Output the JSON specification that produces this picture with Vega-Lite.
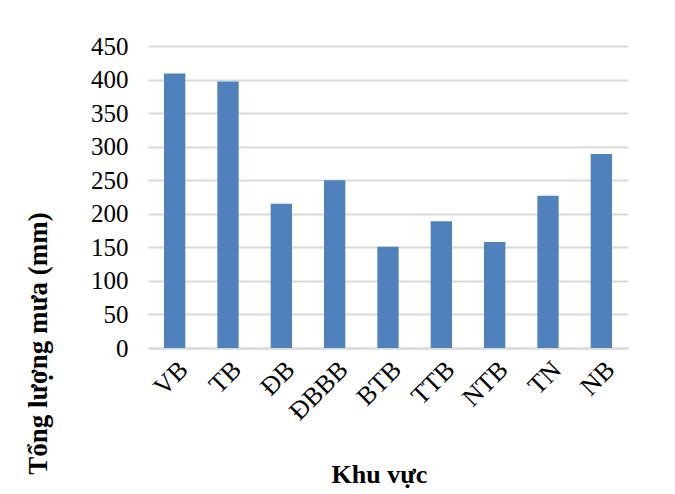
{
  "$schema": "https://vega.github.io/schema/vega-lite/v6.json",
  "autosize": "none",
  "width": 480,
  "height": 302,
  "padding": {"left": 148, "top": 46, "right": 47, "bottom": 146},
  "background": "white",
  "data": {
    "values": [
      {"region": "VB", "rain": 409},
      {"region": "TB", "rain": 397},
      {"region": "ĐB", "rain": 215},
      {"region": "ĐBBB", "rain": 250},
      {"region": "BTB", "rain": 151},
      {"region": "TTB", "rain": 189},
      {"region": "NTB", "rain": 158},
      {"region": "TN", "rain": 227},
      {"region": "NB", "rain": 289}
    ]
  },
  "mark": {"type": "bar", "color": "#4F81BD"},
  "encoding": {
    "x": {
      "field": "region",
      "type": "nominal",
      "sort": null,
      "scale": {"paddingInner": 0.6, "paddingOuter": 0.3},
      "axis": {
        "title": "Khu vực",
        "labelAngle": -45,
        "labelFont": "Liberation Serif",
        "labelFontSize": 26,
        "labelColor": "black",
        "labelPadding": 8,
        "ticks": false,
        "domainColor": "#d9d9d9",
        "domainWidth": 2,
        "titleFont": "Liberation Serif",
        "titleFontSize": 26,
        "titleFontWeight": "bold",
        "titleColor": "black",
        "titleBaseline": "top",
        "titleAlign": "center",
        "titleX": 231,
        "titleY": 113
      }
    },
    "y": {
      "field": "rain",
      "type": "quantitative",
      "scale": {"domain": [0, 450]},
      "axis": {
        "title": "Tổng lượng  mưa (mm)",
        "values": [0, 50, 100, 150, 200, 250, 300, 350, 400, 450],
        "labelFont": "Liberation Serif",
        "labelFontSize": 25,
        "labelColor": "black",
        "labelPadding": 20,
        "ticks": false,
        "domain": false,
        "grid": true,
        "gridColor": "#d9d9d9",
        "gridWidth": 2,
        "titleFont": "Liberation Serif",
        "titleFontSize": 27,
        "titleFontWeight": "bold",
        "titleColor": "black",
        "titleX": -110,
        "titleY": 297,
        "titleAngle": -90,
        "titleAlign": "center",
        "titleBaseline": "middle"
      }
    }
  },
  "config": {"view": {"stroke": null}}
}
